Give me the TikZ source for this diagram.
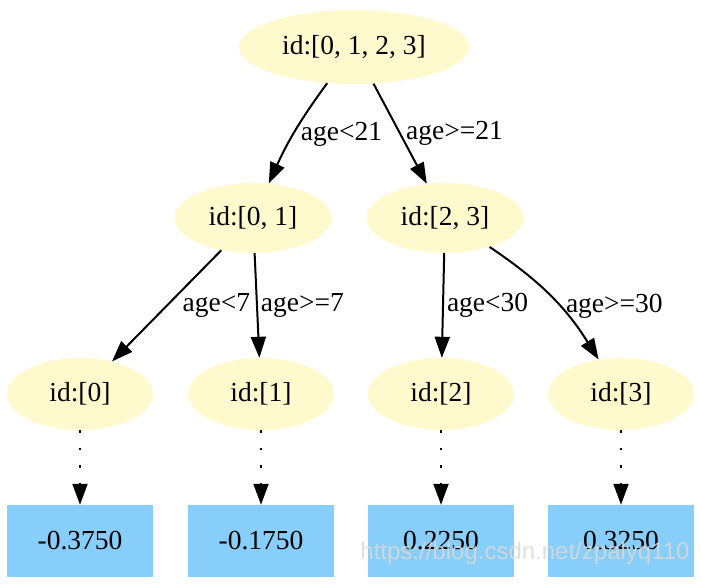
\documentclass[tikz,border=0pt]{standalone}
\usepackage{fontspec}
\setmainfont{Liberation Serif}
\newfontfamily\wmfont{Liberation Sans}
\usetikzlibrary{arrows.meta,shapes.geometric}
\definecolor{lemon}{HTML}{FFFACD}
\definecolor{skyblue}{HTML}{87CEFA}

\begin{document}
\begin{tikzpicture}[x=1pt, y=1pt, node distance=147pt,
    every node/.style={font=\fontsize{27.5}{32}\selectfont},
    idnode/.style={ellipse, fill=lemon, inner sep=0pt, minimum width=146pt, minimum height=72pt},
    leafbox/.style={rectangle, fill=skyblue, inner sep=0pt, minimum width=146pt, minimum height=72pt},
    edgelbl/.style={anchor=west, inner sep=0pt},
    split/.style={-{Triangle[length=21pt,width=15pt]}, line width=2pt},
    leafarrow/.style={split, dash pattern=on 2.5pt off 15pt}]
    \useasboundingbox (0,0) rectangle (702,-586);
    % Nodes
    \node (root) [idnode, minimum width=230pt, minimum height=74pt] at (354,-47) {id:[0, 1, 2, 3]};
    \node (n01) [idnode, minimum width=157pt, minimum height=70pt] at (253,-218) {id:[0, 1]};
    \node (n23) [idnode, minimum width=157pt, minimum height=70pt] at (445,-218) {id:[2, 3]};
    \node (n0) [idnode] at (80,-394) {id:[0]};
    \node (n1) [idnode] at (261,-394) {id:[1]};
    \node (n2) [idnode] at (441,-394) {id:[2]};
    \node (n3) [idnode] at (621,-394) {id:[3]};
    \node (v0) [below of=n0, leafbox] {-0.3750};
    \node (v1) [below of=n1, leafbox] {-0.1750};
    \node (v2) [below of=n2, leafbox] {0.2250};
    \node (v3) [below of=n3, leafbox] {0.3250};
    % Arrows
    \draw[split] (root) to[bend right=6] node[edgelbl, xshift=5pt, yshift=-3pt] (c21) {age<21} (n01);
    \draw[split] (root) -- node[edgelbl, xshift=5pt] (d21) {age>=21} (n23);
    \draw[split] (n01) -- node[edgelbl, xshift=15pt] (c7) {age<7} (n0);
    \draw[split] (n01) -- node[edgelbl, xshift=3pt] (d7) {age>=7} (n1);
    \draw[split] (n23) -- node[edgelbl, xshift=3pt] (c30) {age<30} (n2);
    \draw[split] (n23) to[bend left=12] node[edgelbl, xshift=14pt, yshift=-10pt] (d30) {age>=30} (n3);
    \draw[leafarrow] (n0) -- (v0);
    \draw[leafarrow] (n1) -- (v1);
    \draw[leafarrow] (n2) -- (v2);
    \draw[leafarrow] (n3) -- (v3);
    % Watermark
    \node (wm) [text=black!15, text opacity=0.85, font=\wmfont\fontsize{24}{28}\selectfont] at (525,-553) {https://blog.csdn.net/zpalyq110};
  \end{tikzpicture}
\end{document}
